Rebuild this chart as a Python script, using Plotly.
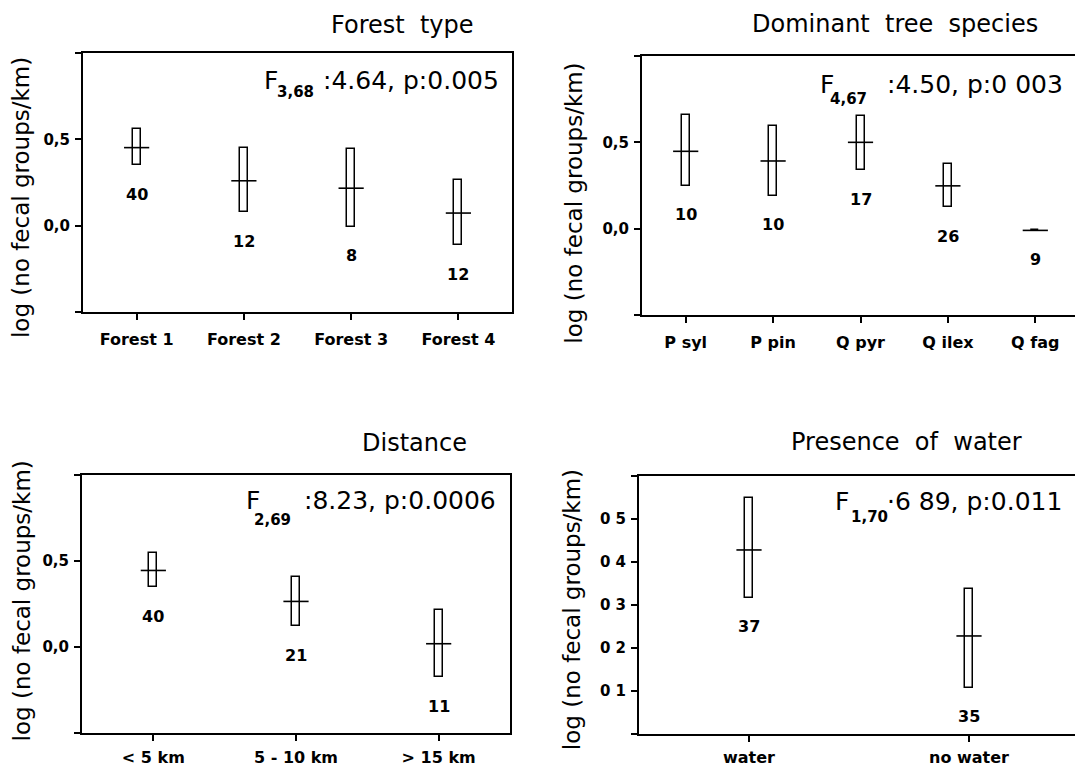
import plotly.graph_objects as go

W, H = 1083, 770
OFF = 8  # default page margin of the html body

# ---------------- data ----------------
forest_cats = ["Forest 1", "Forest 2", "Forest 3", "Forest 4"]
forest_mean = [0.452, 0.260, 0.217, 0.073]
forest_low = [0.350, 0.079, -0.006, -0.113]
forest_high = [0.561, 0.452, 0.446, 0.263]
forest_n = [40, 12, 8, 12]

species_cats = ["P syl", "P pin", "Q pyr", "Q ilex", "Q fag"]
species_mean = [0.448, 0.392, 0.500, 0.248, -0.010]
species_low = [0.248, 0.190, 0.338, 0.125, -0.010]
species_high = [0.660, 0.592, 0.650, 0.375, -0.010]
species_n = [10, 10, 17, 26, 9]

distance_cats = ["< 5 km", "5 - 10 km", "> 15 km"]
distance_mean = [0.445, 0.265, 0.019]
distance_low = [0.346, 0.121, -0.175]
distance_high = [0.549, 0.407, 0.218]
distance_n = [40, 21, 11]

water_cats = ["water", "no water"]
water_mean = [0.428, 0.228]
water_low = [0.317, 0.108]
water_high = [0.550, 0.337]
water_n = [37, 35]

titles = ["Forest  type", "Dominant  tree  species", "Distance", "Presence  of  water"]
stat_sub = ["3,68", "4,67", "2,69", "1,70"]
stat_main = [":4.64, p:0.005", ":4.50, p:0 003", ":8.23, p:0.0006", "\u00b76 89, p:0.011"]

ylabel = "log (no fecal groups/km)"
yticks_main = [-0.5, 0.0, 0.5, 1.0]
yticktext_main = ["", "0,0", "0,5", ""]
yticks_water = [0.0, 0.1, 0.2, 0.3, 0.4, 0.5, 0.6]
yticktext_water = ["", "0 1", "0 2", "0 3", "0 4", "0 5", ""]

# ---------------- layout geometry (pixels) ----------------
panels = [
    dict(cats=forest_cats, mean=forest_mean, low=forest_low, high=forest_high, n=forest_n,
         box=(83, 512, 53, 312), yr=[-0.5, 1.0], tv=yticks_main, tt=yticktext_main,
         title_c=0.745, title_y=-0.110, f_x=0.417, f_y=0.105, s_x=0.448, s_y=0.150, m_r=0.974,
         yl_dx=-62, yl_f=0.56, standoff=6),
    dict(cats=species_cats, mean=species_mean, low=species_low, high=species_high, n=species_n,
         box=(642, 1079, 56, 315), yr=[-0.5, 1.0], tv=yticks_main, tt=yticktext_main,
         title_c=0.578, title_y=-0.123, f_x=0.402, f_y=0.110, s_x=0.426, s_y=0.166, m_r=0.968,
         yl_dx=-68, yl_f=0.57, standoff=6),
    dict(cats=distance_cats, mean=distance_mean, low=distance_low, high=distance_high, n=distance_n,
         box=(82, 510, 475, 733), yr=[-0.5, 1.0], tv=yticks_main, tt=yticktext_main,
         title_c=0.778, title_y=-0.125, f_x=0.378, f_y=0.097, s_x=0.398, s_y=0.174, m_r=0.971,
         yl_dx=-60, yl_f=0.49, standoff=3),
    dict(cats=water_cats, mean=water_mean, low=water_low, high=water_high, n=water_n,
         box=(639, 1079, 476, 734), yr=[0.0, 0.6], tv=yticks_water, tt=yticktext_water,
         title_c=0.608, title_y=-0.133, f_x=0.442, f_y=0.099, s_x=0.477, s_y=0.160, m_r=0.966,
         yl_dx=-67, yl_f=0.52, standoff=2),
]

FONT = "DejaVu Sans"
BLACK = "black"
FW, FH = W - OFF, H - OFF

fig = go.Figure()
annotations = []
layout_axes = {}


def px_x(p):
    return (p - OFF) / FW


def px_y(p):
    return 1 - (p - OFF) / FH


for i, p in enumerate(panels, start=1):
    xa = "x" if i == 1 else f"x{i}"
    ya = "y" if i == 1 else f"y{i}"
    xkey = "xaxis" if i == 1 else f"xaxis{i}"
    ykey = "yaxis" if i == 1 else f"yaxis{i}"
    x0, x1, y0, y1 = p["box"]
    bw, bh = x1 - x0, y1 - y0
    ncat = len(p["cats"])
    px_per_unit = bw / ncat
    bar_w = 8.0 / px_per_unit

    fig.add_trace(go.Bar(
        x=p["cats"], y=[h - l for h, l in zip(p["high"], p["low"])], base=p["low"],
        width=bar_w, xaxis=xa, yaxis=ya,
        marker=dict(color="white", line=dict(color=BLACK, width=1.5)),
        hoverinfo="skip", showlegend=False))
    fig.add_trace(go.Scatter(
        x=p["cats"], y=p["mean"], mode="markers", xaxis=xa, yaxis=ya,
        marker=dict(symbol="line-ew", size=18, color=BLACK, line=dict(color=BLACK, width=1.6)),
        hoverinfo="skip", showlegend=False))

    layout_axes[xkey] = dict(
        domain=[px_x(x0), px_x(x1)], anchor=ya, type="category",
        range=[-0.5, ncat - 0.5], showline=True, linewidth=2, linecolor=BLACK, mirror=True,
        ticks="outside", ticklen=6, tickwidth=1.5, tickcolor=BLACK,
        tickfont=dict(family=FONT, size=16, color=BLACK, weight="bold"),
        ticklabelstandoff=p["standoff"], showgrid=False, zeroline=False, automargin=False,
        fixedrange=True)
    layout_axes[ykey] = dict(
        domain=[px_y(y1), px_y(y0)], anchor=xa, range=p["yr"],
        tickmode="array", tickvals=p["tv"], ticktext=p["tt"],
        showline=True, linewidth=2, linecolor=BLACK, mirror=True,
        ticks="outside", ticklen=6, tickwidth=1.5, tickcolor=BLACK,
        tickfont=dict(family=FONT, size=15, color=BLACK, weight="bold"),
        ticklabelstandoff=2, showgrid=False, zeroline=False, automargin=False, fixedrange=True)

    # sample sizes below the bars
    for c, lo, nn in zip(p["cats"], p["low"], p["n"]):
        annotations.append(dict(
            x=c, y=lo, xref=xa, yref=ya, text=str(nn), showarrow=False,
            yshift=-29, xanchor="center", yanchor="middle",
            font=dict(family=FONT, size=16, color=BLACK, weight="bold")))

    # panel title
    annotations.append(dict(
        x=px_x(x0 + p["title_c"] * bw), y=px_y(y0 + p["title_y"] * bh),
        xref="paper", yref="paper", text=titles[i - 1], showarrow=False,
        xanchor="center", yanchor="middle",
        font=dict(family=FONT, size=24, color=BLACK)))

    # statistics text: F, subscript, rest
    annotations.append(dict(
        x=px_x(x0 + p["f_x"] * bw), y=px_y(y0 + p["f_y"] * bh),
        xref="paper", yref="paper", text="F", showarrow=False,
        xanchor="left", yanchor="middle",
        font=dict(family=FONT, size=25, color=BLACK)))
    annotations.append(dict(
        x=px_x(x0 + p["s_x"] * bw), y=px_y(y0 + p["s_y"] * bh),
        xref="paper", yref="paper", text=stat_sub[i - 1], showarrow=False,
        xanchor="left", yanchor="middle",
        font=dict(family=FONT, size=15, color=BLACK, weight="bold")))
    annotations.append(dict(
        x=px_x(x0 + p["m_r"] * bw), y=px_y(y0 + p["f_y"] * bh),
        xref="paper", yref="paper", text=stat_main[i - 1], showarrow=False,
        xanchor="right", yanchor="middle",
        font=dict(family=FONT, size=25, color=BLACK)))

    # y-axis label
    annotations.append(dict(
        x=px_x(x0 + p["yl_dx"]), y=px_y(y0 + p["yl_f"] * bh),
        xref="paper", yref="paper", text=ylabel, showarrow=False, textangle=-90,
        xanchor="center", yanchor="middle",
        font=dict(family=FONT, size=23, color=BLACK)))

fig.update_layout(
    width=FW, height=FH, margin=dict(l=0, r=0, t=0, b=0),
    paper_bgcolor="white", plot_bgcolor="white", showlegend=False,
    bargap=0, annotations=annotations, **layout_axes)

fig.write_html("out.html")
